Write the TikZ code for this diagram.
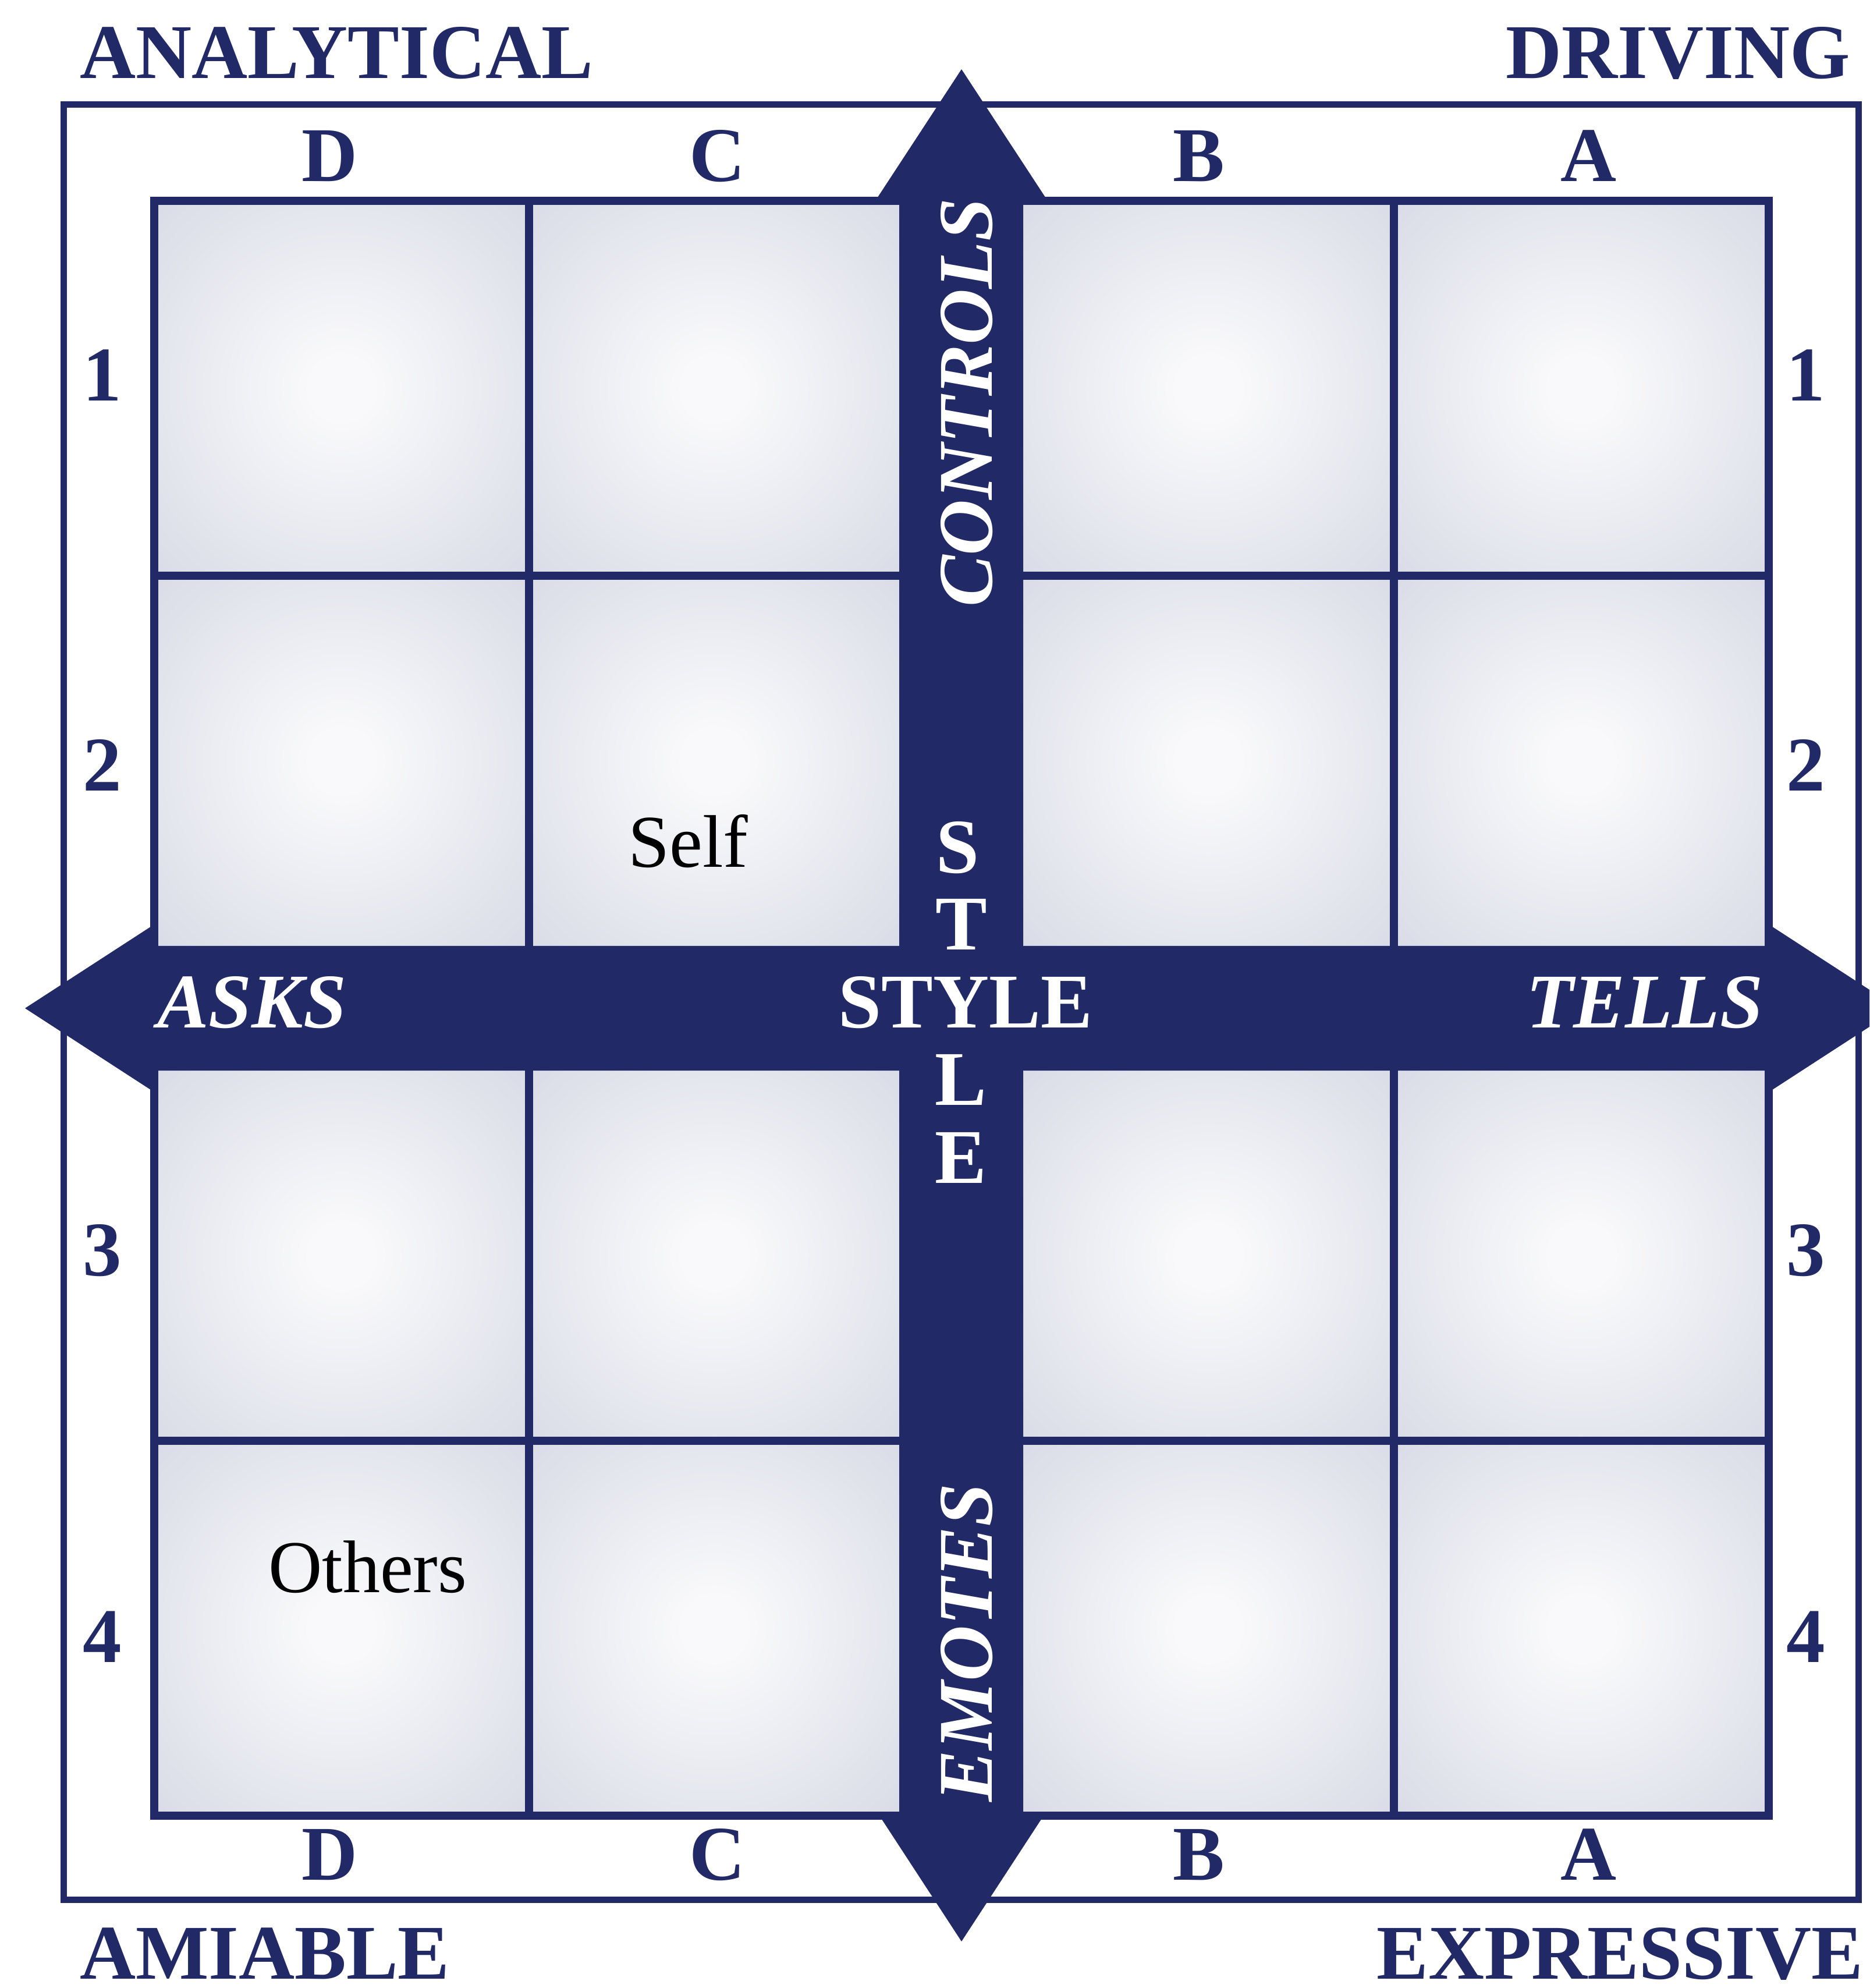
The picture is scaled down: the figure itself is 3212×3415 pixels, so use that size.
\documentclass[tikz,border=0pt]{standalone}
\usepackage{fontspec}
\setmainfont{Liberation Serif}
\definecolor{navy}{HTML}{212A66}
\definecolor{cin}{HTML}{F9F9FB}
\definecolor{cq}{HTML}{E3E5ED}
\definecolor{cmid}{HTML}{CACDDC}
\definecolor{cout}{HTML}{BEC2D4}
\pgfdeclareradialshading{cellshade}{\pgfpoint{0bp}{0bp}}{color(0bp)=(cin); color(3bp)=(cin); color(18bp)=(cq); color(35bp)=(cmid); color(50bp)=(cout)}
\begin{document}
\begin{tikzpicture}[x=0.1pt,y=-0.1pt,
  lbl/.style={text=navy,font=\fontsize{13.3}{16}\selectfont\bfseries,inner sep=0pt,anchor=base},
  wlbl/.style={text=white,font=\fontsize{13.3}{16}\selectfont\bfseries,inner sep=0pt,anchor=base},
  wital/.style={text=white,font=\fontsize{13.3}{16}\selectfont\bfseries\itshape,inner sep=0pt,anchor=base},
  plain/.style={text=black,font=\fontsize{12.8}{15}\selectfont,inner sep=0pt,anchor=base west},
  gridline/.style={draw=navy,line width=1.4pt},
  outerline/.style={draw=navy,line width=1.1pt},
  arrowfill/.style={fill=navy,draw=none}]
\path[use as bounding box] (0,0) rectangle (3212,3415);
\begin{scope}
\clip (0,0) rectangle (3212,3415);
\fill[white] (0,0) rectangle (3212,3415);
% outer box
\draw[outerline] (109.5,179.5) rectangle (3193,3263);
% cells
\foreach \xa/\xb in {265/909,909/1545,1758/2395,2395/3039}{
  \foreach \ya/\yb in {345/989,989/1625,1839/2475,2475/3119}{
    \begin{scope}
      \clip (\xa,\ya) rectangle (\xb,\yb);
      \shade[shading=cellshade] ({(\xa+\xb)/2},{(\ya+\yb)/2}) circle (455);
    \end{scope}
  }
}
% grid lines
\draw[gridline] (265,345) rectangle (3039,3119);
\draw[gridline] (909,345) -- (909,3119);
\draw[gridline] (2395,345) -- (2395,3119);
\draw[gridline] (265,989) -- (3039,989);
\draw[gridline] (265,2475) -- (3039,2475);
% vertical double arrow
\path[arrowfill] (1652,119) -- (1800,345) -- (1758,345) -- (1758,3119) -- (1793,3119)
  -- (1652,3335) -- (1511,3119) -- (1545,3119) -- (1545,345) -- (1504,345) -- cycle;
% horizontal double arrow
\path[arrowfill] (43,1732) -- (265,1588) -- (265,1625) -- (3039,1625) -- (3039,1588)
  -- (3261,1732) -- (3039,1876) -- (3039,1839) -- (265,1839) -- (265,1876) -- cycle;
% corner titles
\node[lbl,anchor=base west] (analytical) at (135,135) {ANALYTICAL};
\node[lbl,anchor=base east] (driving) at (3181,135) {DRIVING};
\node[lbl,anchor=base west] (amiable) at (135,3399) {AMIABLE};
\node[lbl,anchor=base east] (expressive) at (3203,3399) {EXPRESSIVE};
% column labels
\node[lbl] (tD) at (567,312) {D};
\node[lbl] (tC) at (1232,312) {C};
\node[lbl] (tB) at (2060,312) {B};
\node[lbl] (tA) at (2729,312) {A};
\node[lbl] (bD) at (567,3229) {D};
\node[lbl] (bC) at (1232,3229) {C};
\node[lbl] (bB) at (2060,3229) {B};
\node[lbl] (bA) at (2729,3229) {A};
% row labels
\node[lbl] (l1) at (176,689) {1};
\node[lbl] (l2) at (176,1359) {2};
\node[lbl] (l3) at (176,2191) {3};
\node[lbl] (l4) at (176,2855) {4};
\node[lbl] (r1) at (3103,689) {1};
\node[lbl] (r2) at (3103,1359) {2};
\node[lbl] (r3) at (3103,2191) {3};
\node[lbl] (r4) at (3103,2855) {4};
% arrow texts
\node[wital,anchor=base west] (asks) at (268,1766) {ASKS};
\node[wital,anchor=base east] (tells) at (3031,1766) {TELLS};
\node[wital,rotate=90] (controls) at (1704,692) {CONTROLS};
\node[wital,rotate=90] (emotes) at (1704,2822) {EMOTES};
\node[wlbl] (style) at (1659,1765) {STYLE};
\node[wlbl] (vS) at (1645,1500) {S};
\node[wlbl] (vT) at (1652,1632) {T};
\node[wlbl] (vL) at (1651,1898) {L};
\node[wlbl] (vE) at (1651,2032) {E};
% cell texts
\node[plain] (self) at (1077,1490) {Self};
\node[plain] (others) at (459,2735) {Others};
\end{scope}
\end{tikzpicture}
\end{document}
